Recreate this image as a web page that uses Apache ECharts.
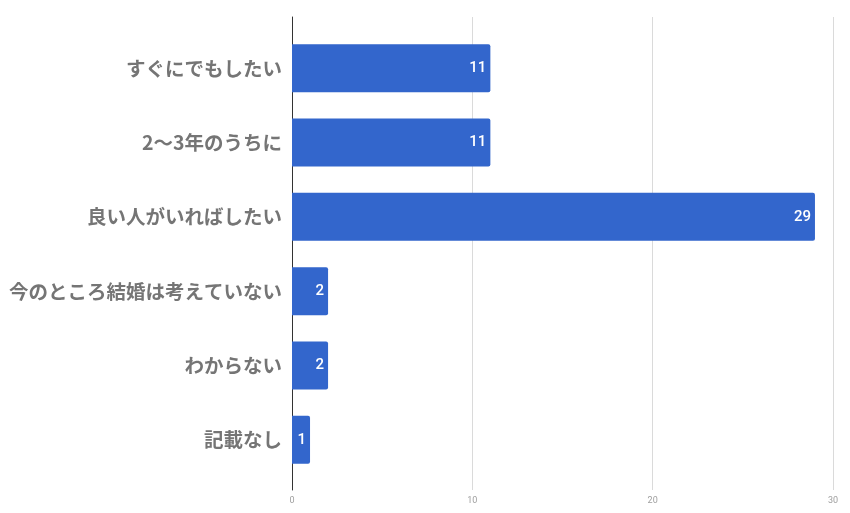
<!DOCTYPE html>
<html><head><meta charset="utf-8">
<script src="https://cdn.jsdelivr.net/npm/echarts@6/dist/echarts.min.js"></script>
<style>html,body{margin:0;padding:0;background:#fff}#c{width:850px;height:513px}</style>
</head><body><div id="c"></div>
<script>
const categories = ['すぐにでもしたい','2〜3年のうちに','良い人がいればしたい','今のところ結婚は考えていない','わからない','記載なし'];
const values = [11, 11, 29, 2, 2, 1];
const xTicks = [0, 10, 20, 30];

const chart = echarts.init(document.getElementById('c'));
chart.setOption({
  animation: false,
  textStyle: { fontFamily: 'Roboto, "Noto Sans CJK JP", sans-serif' },
  grid: [
    { left: 292, right: 17, top: 31, bottom: 36 },
    { left: 292, right: 17, top: 17, bottom: 23 }
  ],
  xAxis: [
    { gridIndex: 0, type: 'value', min: 0, max: 30, show: false },
    { gridIndex: 1, type: 'value', min: xTicks[0], max: xTicks[xTicks.length-1], interval: 10,
      axisLine: { show: false }, axisTick: { show: false },
      splitLine: { show: true, lineStyle: { color: '#dadada', width: 1 } },
      axisLabel: { color: '#9e9e9e', fontSize: 9, margin: 6 } }
  ],
  yAxis: [
    { gridIndex: 0, type: 'category', data: categories, inverse: true,
      axisLine: { show: false }, axisTick: { show: false },
      axisLabel: { color: '#757575', fontSize: 19.5, fontWeight: 'bold', margin: 10,
        fontFamily: '"Noto Sans CJK JP", sans-serif' } },
    { gridIndex: 1, type: 'value', min: 0, max: 1,
      axisLine: { show: true, onZero: false, lineStyle: { color: '#333', width: 1 } },
      axisTick: { show: false }, axisLabel: { show: false }, splitLine: { show: false } }
  ],
  series: [{
    type: 'bar', xAxisIndex: 0, yAxisIndex: 0, data: values, barWidth: 48,
    itemStyle: { color: '#3366cc', borderRadius: [0, 2, 2, 0] },
    label: { show: true, position: 'insideRight', distance: 4, color: '#fff',
      fontSize: 15, fontWeight: 500, fontFamily: 'Roboto, sans-serif' }
  }]
});
</script></body></html>
